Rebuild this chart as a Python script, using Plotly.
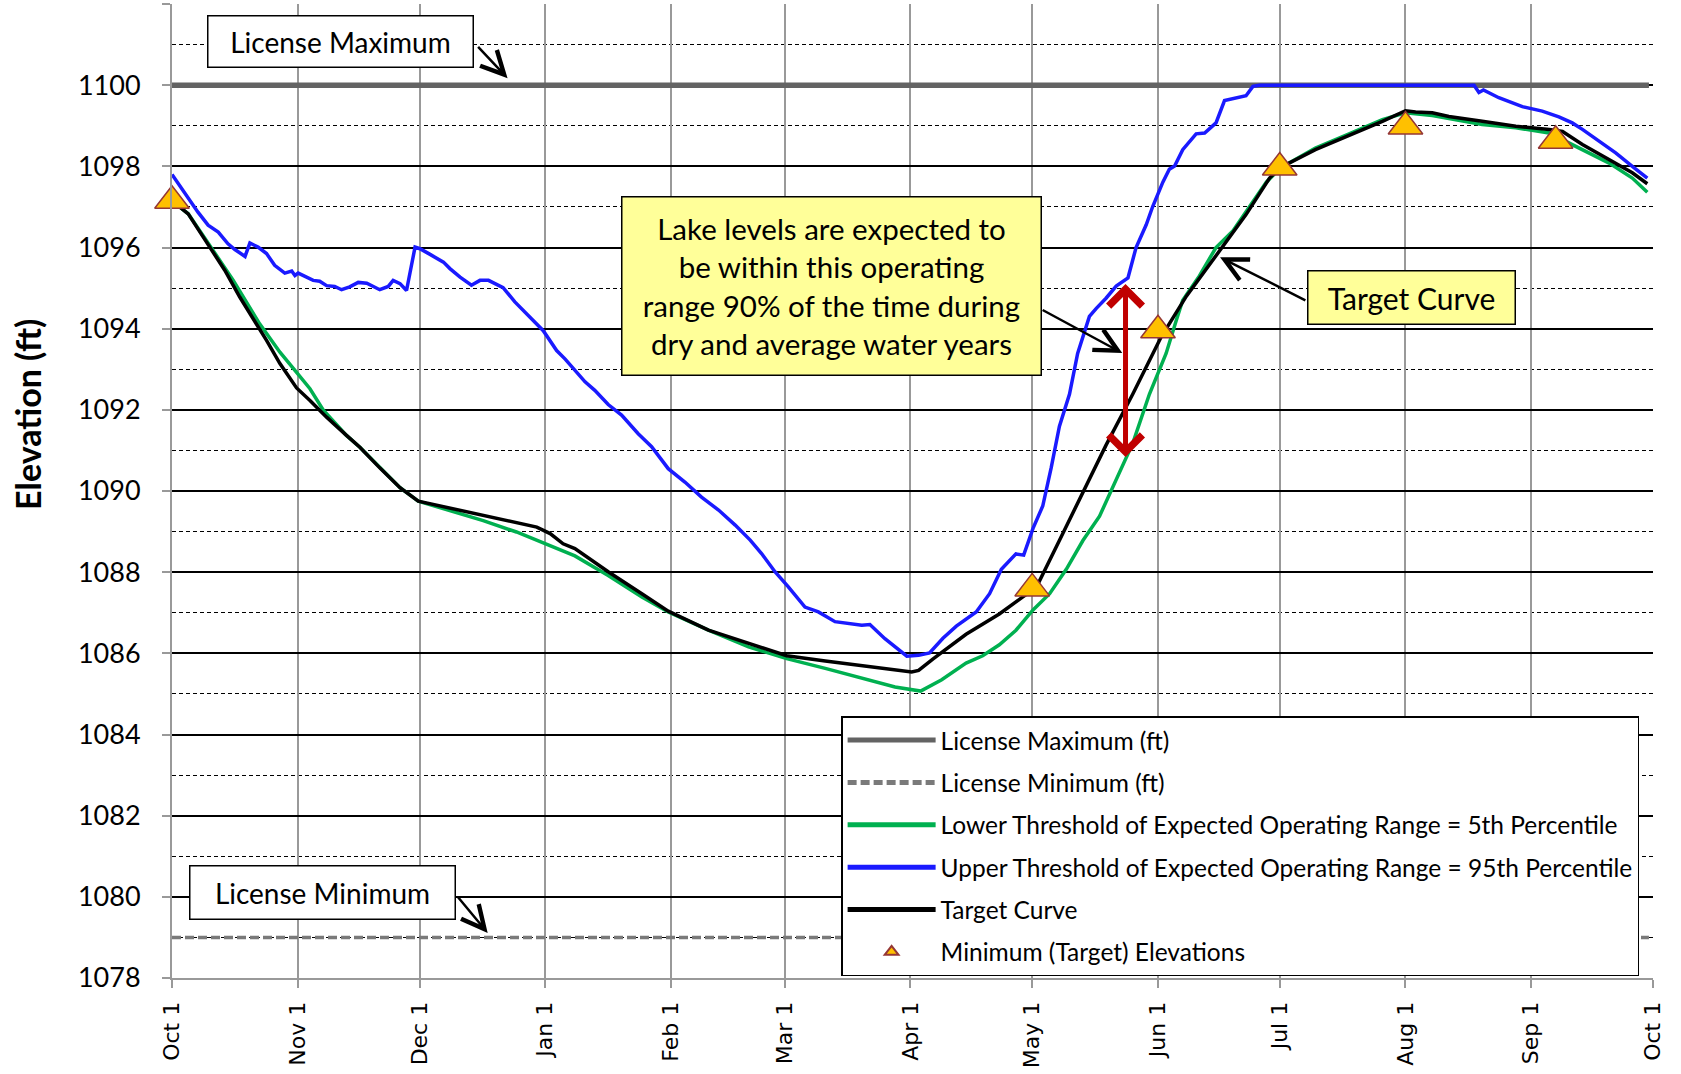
import pandas as pd
import plotly.graph_objects as go

# ---------------- data (day offset from Oct 1, elevation ft) ----------------
upper_day = [0, 3.6, 6.4, 8.9, 11.4, 13.8, 15.5, 18, 19.2, 21.2, 23.3, 25.3, 27.8, 29.5, 30.3, 31.1,
             34.8, 36.4, 38.1, 40.1, 41.8, 43.8, 45.9, 48, 51.2, 53.3, 54.5, 56.2, 57.8, 59.9, 61.1,
             63.6, 66.9, 68.5, 71, 73.8, 75.9, 78, 81.6, 84.5, 87.4, 91.5, 94.8, 96.9, 101.8, 104.2,
             107.5, 110.8, 114.9, 118.2, 122.3, 126.4, 130.5, 134.7, 138.8, 142.5, 145.3, 148.6,
             151.9, 156, 159.3, 163.4, 170, 172, 175.7, 178.2, 181.1, 184, 186.7, 190, 193.3, 198.2,
             201.5, 204.4, 208, 209.9, 212.2, 214.6, 216.7, 218.7, 221.2, 223.2, 226.1, 227.8, 230.2,
             232.7, 235.6, 237.6, 240.1, 241.7, 244.2, 245.8, 247.1, 249.1, 252.4, 254.5, 257.3,
             259.4, 261.5, 264.7, 266.4, 268, 320.9, 322.1, 323.2, 327.0, 332.8, 337.7, 341.8, 345.1,
             347.6, 351.7, 355.8, 359.9, 363.6]
upper_elev = [1097.80, 1097.28, 1096.87, 1096.55, 1096.38, 1096.09, 1095.95, 1095.78, 1096.11, 1096.01,
              1095.85, 1095.56, 1095.37, 1095.42, 1095.31, 1095.37, 1095.19, 1095.17, 1095.06, 1095.04,
              1094.96, 1095.03, 1095.14, 1095.12, 1094.96, 1095.04, 1095.19, 1095.11, 1094.94, 1096.01,
              1095.97, 1095.83, 1095.64, 1095.48, 1095.27, 1095.07, 1095.19, 1095.19, 1095.01, 1094.66,
              1094.37, 1093.95, 1093.46, 1093.25, 1092.69, 1092.48, 1092.13, 1091.87, 1091.41, 1091.09,
              1090.55, 1090.22, 1089.85, 1089.53, 1089.16, 1088.79, 1088.46, 1088.01, 1087.64, 1087.14,
              1087.02, 1086.78, 1086.69, 1086.71, 1086.36, 1086.16, 1085.93, 1085.95, 1086.01, 1086.37,
              1086.67, 1087.02, 1087.47, 1088.07, 1088.45, 1088.42, 1089.08, 1089.63, 1090.58, 1091.59,
              1092.39, 1093.39, 1094.30, 1094.50, 1094.75, 1095.05, 1095.25, 1096.00, 1096.56, 1097.01,
              1097.61, 1097.93, 1098.01, 1098.41, 1098.80, 1098.82, 1099.07, 1099.62, 1099.67, 1099.74,
              1099.97, 1100.0, 1100.0, 1099.82, 1099.88, 1099.69, 1099.47, 1099.36, 1099.22, 1099.07,
              1098.91, 1098.62, 1098.33, 1098.00, 1097.71]

target_day = [0, 4, 9.3, 13, 16.7, 20.4, 23.3, 26.6, 30.7, 34, 38.1, 43, 46.3, 51.2, 56.2, 60.7, 64.4,
              72.6, 80.8, 89.9, 93.2, 96.4, 99.3, 107.5, 115.8, 122.3, 132.2, 142.1, 151.5, 161, 169.2,
              177.4, 182.3, 184, 187.5, 195.7, 203.9, 209.7, 213, 218.7, 224.5, 230.2, 236.8, 243.8,
              250, 257.3, 264.7, 270.5, 273.2, 281.8, 290.1, 298.3, 304.0, 306.5, 310.6, 314.7, 322.9,
              331.2, 339.4, 342.7, 347.6, 354.2, 359.9, 363.6]
target_elev = [1097.15, 1096.83, 1096.01, 1095.44, 1094.78, 1094.20, 1093.71, 1093.14, 1092.54, 1092.23,
               1091.82, 1091.37, 1091.08, 1090.57, 1090.08, 1089.75, 1089.67, 1089.48, 1089.31, 1089.11,
               1088.95, 1088.70, 1088.58, 1088.01, 1087.47, 1087.04, 1086.57, 1086.24, 1085.94, 1085.81,
               1085.71, 1085.61, 1085.54, 1085.58, 1085.86, 1086.47, 1086.97, 1087.39, 1087.62, 1088.78,
               1089.98, 1091.13, 1092.39, 1093.80, 1094.80, 1095.80, 1096.81, 1097.71, 1097.97, 1098.41,
               1098.76, 1099.11, 1099.37, 1099.34, 1099.32, 1099.23, 1099.11, 1098.99, 1098.91, 1098.86,
               1098.54, 1098.16, 1097.84, 1097.57]

lower_day = [0, 4, 9.3, 15.1, 21.6, 26.6, 30.3, 34, 37.3, 39.7, 43, 46.3, 51.2, 56.2, 60.7, 68.5, 76.7,
             84.9, 89.9, 94.8, 99.3, 107.5, 115.8, 122.3, 132.2, 142.1, 151.5, 161, 169.2, 178.2, 184.5,
             189.7, 195.7, 199.8, 203.9, 208, 212.2, 216.3, 220.4, 224.5, 228.6, 232.7, 236.8, 240.9,
             245, 247.5, 249.1, 253.2, 257.3, 261.5, 265.6, 269.7, 273.2, 281.8, 290.1, 298.3, 304.0,
             310.6, 322.9, 331.2, 339.4, 347.6, 354.2, 359.9, 363.6]
lower_elev = [1097.15, 1096.83, 1096.05, 1095.19, 1094.12, 1093.42, 1092.97, 1092.52, 1091.99, 1091.74,
              1091.37, 1091.08, 1090.57, 1090.08, 1089.75, 1089.52, 1089.27, 1088.99, 1088.78, 1088.58,
              1088.40, 1087.92, 1087.39, 1087.02, 1086.57, 1086.16, 1085.87, 1085.63, 1085.42, 1085.17,
              1085.07, 1085.35, 1085.76, 1085.94, 1086.21, 1086.57, 1087.07, 1087.47, 1088.07, 1088.78,
              1089.38, 1090.28, 1091.18, 1092.39, 1093.39, 1094.20, 1094.70, 1095.30, 1096.00, 1096.41,
              1097.01, 1097.61, 1097.96, 1098.45, 1098.80, 1099.15, 1099.32, 1099.25, 1099.03, 1098.95,
              1098.82, 1098.41, 1098.08, 1097.71, 1097.36]

min_target_day = [0, 212, 243, 273, 304, 341]
min_target_elev = [1097.15, 1087.6, 1093.96, 1097.97, 1098.98, 1098.63]

license_day = [0, 364]
license_max = [1100, 1100]
license_min = [1079, 1079]

tick_dates = ["2010-10-01", "2010-11-01", "2010-12-01", "2011-01-01", "2011-02-01", "2011-03-01",
              "2011-04-01", "2011-05-01", "2011-06-01", "2011-07-01", "2011-08-01", "2011-09-01",
              "2011-10-01"]
tick_labels = ["Oct 1", "Nov 1", "Dec 1", "Jan 1", "Feb 1", "Mar 1", "Apr 1", "May 1", "Jun 1",
               "Jul 1", "Aug 1", "Sep 1", "Oct 1"]
y_tickvals = [1078, 1080, 1082, 1084, 1086, 1088, 1090, 1092, 1094, 1096, 1098, 1100, 1102]
y_ticktext = ["1078", "1080", "1082", "1084", "1086", "1088", "1090", "1092", "1094", "1096", "1098",
              "1100", ""]

# range arrow (90% operating range), in day / elevation
range_arrow_day = 235
range_arrow_low, range_arrow_high = 1090.8, 1095.1

BASE = pd.Timestamp("2010-10-01")


def to_dates(days):
    return BASE + pd.to_timedelta(days, unit="D")


def dstr(day):
    return (BASE + pd.Timedelta(days=day)).strftime("%Y-%m-%d %H:%M")


FONT = "Lato, 'Open Sans', sans-serif"

fig = go.Figure()
fig.add_trace(go.Scatter(x=to_dates(license_day), y=license_max, mode="lines", name="License Maximum (ft)",
                         line=dict(color="#636363", width=5.5), legendgroup="a"))
fig.add_trace(go.Scatter(x=to_dates(license_day), y=license_min, mode="lines", name="License Minimum (ft)",
                         line=dict(color="#7a7a7a", width=3.5, dash="9px,4px"), legendgroup="b"))
fig.add_trace(go.Scatter(x=to_dates(lower_day), y=lower_elev, mode="lines",
                         name="Lower Threshold of Expected Operating Range = 5th Percentile",
                         line=dict(color="#00B050", width=3.5), legendgroup="c"))
fig.add_trace(go.Scatter(x=to_dates(upper_day), y=upper_elev, mode="lines",
                         name="Upper Threshold of Expected Operating Range = 95th Percentile",
                         line=dict(color="#1A1AFF", width=3.5), legendgroup="d"))
fig.add_trace(go.Scatter(x=to_dates(target_day), y=target_elev, mode="lines", name="Target Curve",
                         line=dict(color="#000000", width=3.5), legendgroup="e"))
fig.add_trace(go.Scatter(x=to_dates(min_target_day), y=min_target_elev, mode="markers",
                         name="Minimum (Target) Elevations", cliponaxis=False,
                         marker=dict(symbol="triangle-up", size=30, color="#FFC000",
                                     line=dict(color="#953735", width=1.5)), legendgroup="f"))

box_font = dict(family=FONT, size=28, color="#000000")
common_box = dict(xref="paper", yref="paper", showarrow=False, xanchor="center", yanchor="middle",
                  bordercolor="#000000", borderwidth=1.5, borderpad=1)
annotations = [
    # text boxes
    dict(text="License Maximum", x=0.1138, y=0.9617, font=box_font, bgcolor="#FFFFFF",
         width=262, height=48, **common_box),
    dict(text="License Minimum", x=0.1013, y=0.0873, font=box_font, bgcolor="#FFFFFF",
         width=262, height=50, **common_box),
    dict(text="Lake levels are expected to<br>be within this operating<br>range 90% of the time during<br>dry and average water years",
         x=0.4450, y=0.7105, font=dict(family=FONT, size=29.5, color="#000000"), bgcolor="#FFFF99",
         width=416, height=175, align="center", **common_box),
    dict(text="Target Curve", x=0.8370, y=0.6982, font=dict(family=FONT, size=30, color="#000000"),
         bgcolor="#FFFF99", width=204, height=50, **common_box),
    # y axis title
    dict(text="<b>Elevation (ft)</b>", xref="paper", yref="paper", x=-0.0980, y=0.579, textangle=-90,
         showarrow=False, xanchor="center", yanchor="middle",
         font=dict(family=FONT, size=34, color="#000000")),
]
arrow_common = dict(text="", xref="x", yref="y", axref="x", ayref="y", showarrow=True, arrowhead=5,
                    arrowsize=1.8, arrowwidth=2.5, arrowcolor="#000000", standoff=0, startstandoff=0)
annotations += [
    dict(x=dstr(82.7), y=1100.17, ax=dstr(75.1), ay=1100.98, **arrow_common),
    dict(x=dstr(77.8), y=1079.11, ax=dstr(70.1), ay=1080.04, **arrow_common),
    dict(x=dstr(234.2), y=1093.40, ax=dstr(214.2), ay=1094.48, **arrow_common),
    dict(x=dstr(258.3), y=1095.76, ax=dstr(279.7), ay=1094.68, **arrow_common),
    dict(text="", x=dstr(range_arrow_day), y=range_arrow_high, ax=dstr(range_arrow_day), ay=range_arrow_low,
         xref="x", yref="y", axref="x", ayref="y", showarrow=True, arrowside="end+start",
         arrowhead=4, startarrowhead=4, arrowsize=1.3, startarrowsize=1.3, arrowwidth=5,
         arrowcolor="#C00000"),
]

fig.update_layout(
    width=1681, height=1074,
    margin=dict(l=172, r=28, t=4, b=96),
    paper_bgcolor="#FFFFFF", plot_bgcolor="#FFFFFF",
    font=dict(family=FONT, color="#000000"),
    showlegend=True,
    legend=dict(x=0.4518, y=0.2688, xanchor="left", yanchor="top", bgcolor="#FFFFFF",
                bordercolor="#000000", borderwidth=1.5, font=dict(family=FONT, size=24.5, color="#000000"),
                tracegroupgap=7.5, itemwidth=88, traceorder="grouped", itemsizing="constant"),
    annotations=annotations,
    xaxis=dict(type="date", range=["2010-10-01", "2011-10-01"], tickmode="array", tickvals=tick_dates,
               ticktext=tick_labels, tickangle=-90, automargin=False, ticklabelstandoff=5,
               tickfont=dict(family="DejaVu Sans", size=22, color="#000000"),
               showgrid=True, gridcolor="#999999", gridwidth=2, ticks="outside", ticklen=8,
               tickcolor="#999999", tickwidth=2, showline=True, linecolor="#999999", linewidth=2,
               zeroline=False),
    yaxis=dict(range=[1078, 1102], tickmode="array", tickvals=y_tickvals, ticktext=y_ticktext,
               automargin=False,
               tickfont=dict(family=FONT, size=27, color="#000000"), showgrid=True, gridcolor="#000000",
               gridwidth=1.5, ticks="outside", ticklen=8, tickcolor="#999999", tickwidth=2,
               showline=True, linecolor="#999999", linewidth=2, zeroline=False, ticklabelstandoff=16,
               minor=dict(tickmode="linear", tick0=1079, dtick=2, showgrid=True, gridcolor="#000000",
                          griddash="4px,3px", gridwidth=1.3)),
)

fig.write_html("out.html", config={"displayModeBar": False},
               post_script="document.body.style.margin='0';document.body.style.overflow='hidden';")
